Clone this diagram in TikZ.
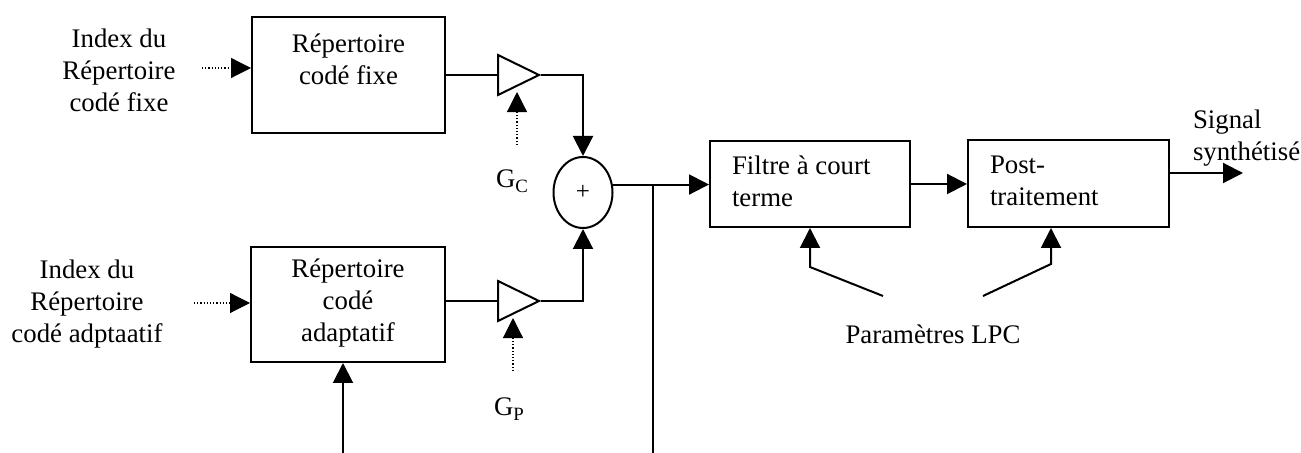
\documentclass[tikz,border=0pt]{standalone}
\usepackage{fontspec}
\setmainfont{Liberation Serif}
\usetikzlibrary{arrows.meta,positioning,shapes.geometric}
\newcommand{\topstrut}{\rule{0pt}{12pt}}

\begin{document}
\begin{tikzpicture}[x=0.5pt,y=-0.5pt,font=\fontsize{13.4}{16}\selectfont,line width=1pt,
  bloc/.style={draw,inner sep=0pt},
  intxt/.style={anchor=north,align=center,inner sep=0pt},
  intxtl/.style={anchor=north west,align=left,inner sep=0pt,xshift=11pt,yshift=-5pt},
  ampli/.style={draw,isosceles triangle,isosceles triangle apex angle=52,minimum size=20pt,inner sep=0pt,anchor=west},
  somme/.style={draw,ellipse,minimum width=29.5pt,minimum height=35.5pt,inner sep=0pt,font=\fontsize{12.5}{14}\selectfont},
  arr/.style={-{Triangle[length=10pt,width=10pt]}},
  ptarr/.style={arr,densely dotted,line width=0.6pt},
  lbl/.style={align=center,inner sep=0pt,anchor=north}]
\useasboundingbox (0,0) rectangle (1301,453);

% blocs
\node[bloc,minimum width=96.5pt,minimum height=58pt,label={[intxt,yshift=-6pt]north:{\topstrut Répertoire\\codé fixe}}] (fixe) at (348.5,75) {};
\node[bloc,minimum width=97pt,minimum height=57.5pt,label={[intxt,yshift=-3.5pt]north:{\topstrut Répertoire\\codé\\adaptatif}}] (adapt) at (348,304.5) {};
\node[ampli] (gc) at (497,75) {};
\node[ampli] (gp) at (497,301) {};
\node[somme] (som) at (583,192.5) {+};
\node[bloc,minimum width=100pt,minimum height=43pt,label={[intxtl]north west:{\topstrut Filtre à court\\terme}}] (filtre) at (810,184) {};
\node[bloc,minimum width=100.5pt,minimum height=43.5pt,label={[intxtl]north west:{\topstrut Post-\\traitement}}] (post) at (1068.5,183.5) {};

% textes
\node[lbl] (idxc) at (119,23) {\topstrut Index du\\Répertoire\\codé fixe};
\node[lbl] (idxa) at (87,254) {\topstrut Index du\\Répertoire\\codé adptaatif};
\node[anchor=base,inner sep=0pt] (gcl) at (512.5,188) {G\textsubscript{C}};
\node[anchor=base,inner sep=0pt] (gpl) at (509.5,416) {G\textsubscript{P}};
\node[anchor=base,inner sep=0pt] (lpc) at (933,344) {Paramètres LPC};
\node[lbl,anchor=north west,align=left] (sig) at (1192,104) {\topstrut Signal\\synthétisé};

% extremites libres
\coordinate (inc) at (202,68);
\coordinate (ina) at (194,303);
\coordinate (gcin) at (517,145);
\coordinate (gpin) at (513,371);
\coordinate (fb) at (343,453);
\coordinate (tap) at (653,453);
\coordinate (lpca) at (883,296);
\coordinate (lpcb) at (983,296);
\coordinate (coudea) at (810,267);
\coordinate (coudeb) at (1051,264);
\coordinate (sortie) at (1243,173);

% liaisons
\draw[ptarr] (inc) -- (inc -| fixe.west);
\draw[ptarr] (ina) -- (ina -| adapt.west);
\draw (fixe.east |- gc.west) -- (gc.west);
\draw (adapt.east |- gp.west) -- (gp.west);
\draw[ptarr,shorten >=1pt] (gcin) -- (gcin |- gc.south);
\draw[ptarr,shorten >=1pt] (gpin) -- (gpin |- gp.south);
\draw[arr] (gc.apex) -| (som.north);
\draw[arr] (gp.apex) -| (som.south);
\draw[arr] (som.15) -- (som.15 -| filtre.west);
\draw (tap) -- (tap |- som.15);
\draw[arr] (fb) -- (fb |- adapt.south);
\draw[arr] (filtre.east) -- (filtre.east -| post.west);
\draw[arr] (sortie -| post.east) -- (sortie);
\draw[arr] (lpca) -- (coudea) -- (coudea |- filtre.south);
\draw[arr] (lpcb) -- (coudeb) -- (coudeb |- post.south);
\end{tikzpicture}
\end{document}
